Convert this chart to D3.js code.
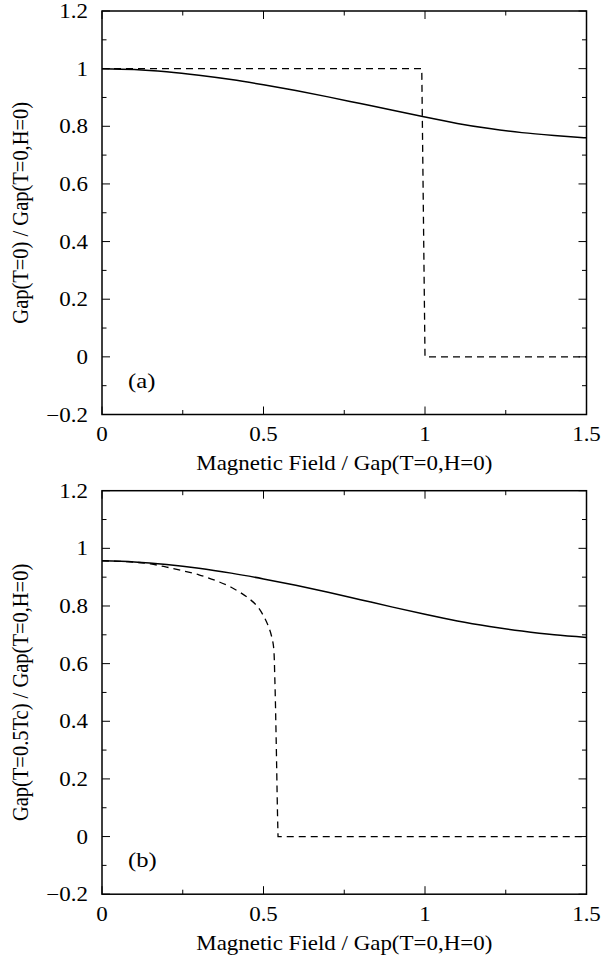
<!DOCTYPE html>
<html>
<head>
<meta charset="utf-8">
<script src="https://cdn.jsdelivr.net/npm/d3@7"></script>
<style>
  html, body { margin: 0; padding: 0; background: #fff; }
  svg { display: block; }
  text { font-family: "Liberation Serif", "Times New Roman", serif; fill: #000; }
</style>
</head>
<body>
<svg id="chart" width="602" height="960"></svg>
<script>
// ---- data ----
const xTicks = [0, 0.5, 1, 1.5];
const xTickLabels = ["0", "0.5", "1", "1.5"];
const yTicks = [-0.2, 0, 0.2, 0.4, 0.6, 0.8, 1, 1.2];
const yTickLabels = ["\u22120.2", "0", "0.2", "0.4", "0.6", "0.8", "1", "1.2"];
const xMinor = [0.25, 0.75, 1.25];
const yMinor = [-0.1, 0.1, 0.3, 0.5, 0.7, 0.9, 1.1];

const xTitle = "Magnetic Field / Gap(T=0,H=0)";
const panelLabels = ["(a)", "(b)"];
const yTitles = ["Gap(T=0) / Gap(T=0,H=0)", "Gap(T=0.5Tc) / Gap(T=0,H=0)"];

// panel (a)
const aSolidH = [0, 0.1, 0.2, 0.3, 0.4, 0.5, 0.6, 0.7, 0.8, 0.9, 1.0, 1.1, 1.2, 1.3, 1.4, 1.5];
const aSolidG = [1.000, 0.997, 0.989, 0.977, 0.962, 0.944, 0.924, 0.902, 0.879, 0.856, 0.832, 0.810, 0.792, 0.778, 0.768, 0.760];
const aDashH = [0, 0.99, 1.0, 1.5];
const aDashG = [1, 1, 0, 0];

// panel (b)
const bSolidH = [0, 0.1, 0.2, 0.3, 0.4, 0.5, 0.6, 0.7, 0.8, 0.9, 1.0, 1.1, 1.2, 1.3, 1.4, 1.5];
const bSolidG = [0.957, 0.953, 0.944, 0.931, 0.914, 0.894, 0.872, 0.848, 0.822, 0.796, 0.771, 0.748, 0.729, 0.713, 0.700, 0.691];
// curved branch of the dashed line, then the flat tail at zero
const bDashH = [0, 0.1, 0.15, 0.2, 0.25, 0.3, 0.35, 0.4, 0.45, 0.48, 0.5, 0.515, 0.525, 0.531, 0.535, 0.539, 0.543, 0.545];
const bDashG = [0.957, 0.952, 0.946, 0.935, 0.922, 0.908, 0.889, 0.865, 0.830, 0.800, 0.766, 0.730, 0.695, 0.660, 0.550, 0.350, 0.100, 0];
const bTailH = [0.545, 1.5];
const bTailG = [0, 0];

const panels = [
  { top: 11, solid: [aSolidH, aSolidG], dash: [[aDashH, aDashG]], curve: d3.curveLinear },
  { top: 490.7, solid: [bSolidH, bSolidG], dash: [[bDashH, bDashG], [bTailH, bTailG]], curve: d3.curveCatmullRom.alpha(0.5) }
];

const svg = d3.select("#chart");
const left = 102, right = 586.5, plotH = 403.5;
const fs = 20.5, sx = 1.12;

panels.forEach((p, i) => {
  const x = d3.scaleLinear().domain([0, 1.5]).range([left, right]);
  const y = d3.scaleLinear().domain([-0.2, 1.2]).range([p.top + plotH, p.top]);
  const g = svg.append("g");

  // ticks (inward) on all four sides
  const tickG = g.append("g").attr("stroke", "#000").attr("stroke-width", 1);
  const maj = 8, mino = 4.5;
  xTicks.forEach(v => {
    tickG.append("line").attr("x1", x(v)).attr("x2", x(v)).attr("y1", y(-0.2)).attr("y2", y(-0.2) - maj);
    tickG.append("line").attr("x1", x(v)).attr("x2", x(v)).attr("y1", y(1.2)).attr("y2", y(1.2) + maj);
  });
  xMinor.forEach(v => {
    tickG.append("line").attr("x1", x(v)).attr("x2", x(v)).attr("y1", y(-0.2)).attr("y2", y(-0.2) - mino);
    tickG.append("line").attr("x1", x(v)).attr("x2", x(v)).attr("y1", y(1.2)).attr("y2", y(1.2) + mino);
  });
  yTicks.forEach(v => {
    tickG.append("line").attr("x1", x(0)).attr("x2", x(0) + maj).attr("y1", y(v)).attr("y2", y(v));
    tickG.append("line").attr("x1", x(1.5)).attr("x2", x(1.5) - maj).attr("y1", y(v)).attr("y2", y(v));
  });
  yMinor.forEach(v => {
    tickG.append("line").attr("x1", x(0)).attr("x2", x(0) + mino).attr("y1", y(v)).attr("y2", y(v));
    tickG.append("line").attr("x1", x(1.5)).attr("x2", x(1.5) - mino).attr("y1", y(v)).attr("y2", y(v));
  });

  // frame
  g.append("rect")
    .attr("x", x(0)).attr("y", y(1.2))
    .attr("width", x(1.5) - x(0)).attr("height", y(-0.2) - y(1.2))
    .attr("fill", "none").attr("stroke", "#000").attr("stroke-width", 1.5);

  // tick labels (slightly stretched horizontally like the reference)
  xTicks.forEach((v, k) => {
    g.append("text").attr("transform", `translate(${x(v)},${y(-0.2) + 26.5}) scale(${sx},1)`)
      .attr("text-anchor", "middle").attr("font-size", fs).text(xTickLabels[k]);
  });
  yTicks.forEach((v, k) => {
    g.append("text").attr("transform", `translate(88,${y(v) + 7}) scale(${sx},1)`)
      .attr("text-anchor", "end").attr("font-size", fs).text(yTickLabels[k]);
  });

  // axis titles
  g.append("text").attr("transform", `translate(${(x(0) + x(1.5)) / 2},${y(-0.2) + 55.5}) scale(${sx},1)`)
    .attr("text-anchor", "middle").attr("font-size", fs).text(xTitle);
  g.append("text")
    .attr("transform", `translate(28,${(y(1.2) + y(-0.2)) / 2}) scale(${sx},1) rotate(-90)`)
    .attr("text-anchor", "middle").attr("font-size", fs).text(yTitles[i]);

  // panel label
  g.append("text").attr("transform", `translate(128,${y(-0.2) - 27}) scale(${sx},1)`)
    .attr("font-size", 22).text(panelLabels[i]);

  // curves
  const solidPts = p.solid[0].map((h, k) => [h, p.solid[1][k]]);
  g.append("path").datum(solidPts)
    .attr("d", d3.line().x(d => x(d[0])).y(d => y(d[1])).curve(d3.curveMonotoneX))
    .attr("fill", "none").attr("stroke", "#000").attr("stroke-width", 1.5);

  const dPath = p.dash.map((s, j) => {
    const pts = s[0].map((h, k) => [h, s[1][k]]);
    const d = d3.line().x(d => x(d[0])).y(d => y(d[1])).curve(j === 0 ? p.curve : d3.curveLinear)(pts);
    return j === 0 ? d : d.replace(/^M/, "L");
  }).join("");
  g.append("path")
    .attr("d", dPath)
    .attr("fill", "none").attr("stroke", "#000").attr("stroke-width", 1.3)
    .attr("stroke-dasharray", "7,5");
});
</script>
</body>
</html>
